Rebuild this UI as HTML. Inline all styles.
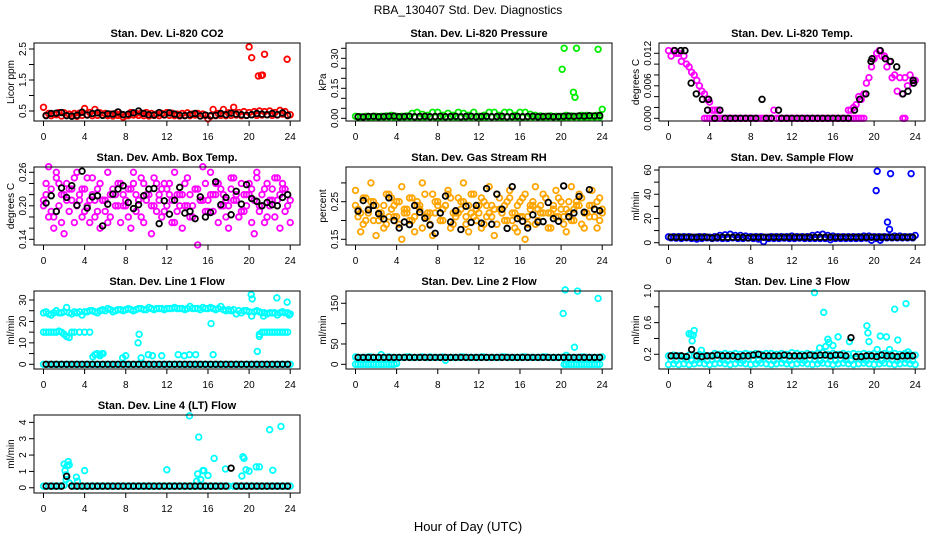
<!DOCTYPE html>
<html><head><meta charset="utf-8"><style>
body{margin:0;background:#fff;}
svg{display:block;font-family:"Liberation Sans",sans-serif;}
</style></head><body>
<svg id="chart" width="936" height="540" viewBox="0 0 936 540">
<rect width="936" height="540" fill="#fff"/>
<text x="468" y="14" text-anchor="middle" font-size="12">RBA_130407  Std. Dev. Diagnostics</text>
<text x="468" y="531" text-anchor="middle" font-size="13">Hour of Day (UTC)</text>
</svg>
<script>
const H=[0,0.5,1,1.5,2,2.5,3,3.5,4,4.5,5,5.5,6,6.5,7,7.5,8,8.5,9,9.5,10,10.5,11,11.5,12,12.5,13,13.5,14,14.5,15,15.5,16,16.5,17,17.5,18,18.5,19,19.5,20,20.5,21,21.5,22,22.5,23,23.5,24];
const H2=[0.25,0.75,1.25,1.75,2.25,2.75,3.25,3.75,4.25,4.75,5.25,5.75,6.25,6.75,7.25,7.75,8.25,8.75,9.25,9.75,10.25,10.75,11.25,11.75,12.25,12.75,13.25,13.75,14.25,14.75,15.25,15.75,16.25,16.75,17.25,17.75,18.25,18.75,19.25,19.75,20.25,20.75,21.25,21.75,22.25,22.75,23.25,23.75];
const xTicks=[0,4,8,12,16,20,24];

const co2RedA=[0.62,0.42,0.40,0.45,0.44,0.40,0.42,0.43,0.58,0.45,0.55,0.44,0.42,0.40,0.42,0.40,0.35,0.45,0.42,0.43,0.45,0.42,0.40,0.42,0.45,0.43,0.40,0.42,0.44,0.40,0.42,0.40,0.25,0.55,0.42,0.55,0.44,0.62,0.45,0.48,0.45,0.48,0.50,0.48,0.50,0.45,0.52,0.48,0.38];
const co2RedB=[0.36,0.35,0.38,0.34,0.36,0.35,0.33,0.36,0.38,0.35,0.36,0.37,0.35,0.34,0.36,0.30,0.35,0.37,0.36,0.35,0.34,0.36,0.35,0.37,0.36,0.35,0.34,0.36,0.35,0.37,0.34,0.36,0.33,0.35,0.36,0.35,0.36,0.37,0.35,0.36,0.38,0.36,0.37,0.38,0.36,0.37,0.40,0.35];
const co2Black=[0.35,0.42,0.43,0.45,0.35,0.33,0.36,0.46,0.37,0.42,0.44,0.36,0.41,0.40,0.47,0.38,0.40,0.44,0.50,0.42,0.38,0.37,0.45,0.38,0.44,0.40,0.36,0.35,0.38,0.42,0.34,0.37,0.35,0.36,0.42,0.38,0.43,0.40,0.38,0.36,0.38,0.42,0.40,0.38,0.42,0.38,0.44,0.36];
const co2OutX=[20.0,20.25,20.9,21.2,21.3,21.5,23.7];
const co2OutY=[2.57,2.22,1.63,1.65,1.66,2.33,2.17];

const presGreenA=[0.01,0.008,0.01,0.008,0.01,0.01,0.012,0.015,0.01,0.01,0.012,0.025,0.03,0.02,0.015,0.03,0.03,0.015,0.025,0.015,0.03,0.025,0.015,0.03,0.01,0.015,0.03,0.03,0.015,0.03,0.03,0.015,0.03,0.03,0.02,0.015,0.012,0.01,0.012,0.01,0.01,0.015,0.012,0.01,0.015,0.015,0.012,0.015,0.045];
const presGreenB=[0.005,0.004,0.006,0.005,0.004,0.005,0.006,0.005,0.004,0.005,0.006,0.005,0.004,0.005,0.006,0.005,0.004,0.005,0.006,0.005,0.004,0.005,0.006,0.005,0.004,0.005,0.006,0.005,0.004,0.005,0.006,0.005,0.004,0.005,0.006,0.005,0.004,0.005,0.006,0.005,0.004,0.005,0.006,0.005,0.004,0.005,0.006,0.005];
const presBlack=[0.008,0.007,0.009,0.01,0.008,0.009,0.01,0.011,0.008,0.009,0.01,0.008,0.009,0.01,0.008,0.009,0.01,0.008,0.009,0.01,0.008,0.009,0.01,0.008,0.009,0.01,0.008,0.009,0.01,0.008,0.009,0.01,0.008,0.009,0.01,0.008,0.009,0.01,0.008,0.009,0.01,0.011,0.01,0.012,0.011,0.013,0.012,0.014];
const presOutX=[20.1,20.3,21.2,21.35,21.5,23.6];
const presOutY=[0.245,0.35,0.13,0.105,0.35,0.345];

const tempA=[0.0125,0.0125,0.012,0.0115,0.0095,0.008,0.006,0.0045,0.003,0.0015,0.0015,0,0,0,0,0,0,0,0,0,0,0,0,0,0,0,0,0,0,0,0,0,0,0,0,0.0015,0.002,0.004,0.0045,0.0075,0.011,0.0125,0.0115,0.0105,0.008,0.0075,0.0075,0.008,0.007];
const tempB=[0.0115,0.012,0.0105,0.01,0.0085,0.007,0.005,0.0035,0.0015,0.0015,0,0,0,0,0,0,0,0,0,0,0.0015,0,0,0,0,0,0,0,0,0,0,0,0,0,0,0.0015,0.0025,0.0035,0.0065,0.0095,0.012,0.0115,0.0095,0.0075,0.005,0.0045,0.006,0.0065];
const tempZeroX=[3.5,3.75,4,4.25,4.5,4.75,5,17.5,17.75,18,18.25,18.5,18.75,19,22.8,23.0];
const tempZeroY=[0,0,0,0,0,0,0,0,0,0,0,0,0,0,0,0];
const tempBlackX=[0.6,1.2,1.6,2.2,2.7,3.3,3.8,3.9,5.0,9.1,10.7,18.1,18.6,19.2,19.7,19.8,20.6,21.1,21.6,22.2,22.8,23.3,23.8,23.85,4.5,5.5,6,6.5,7,7.5,8,8.5,9.5,10,11,11.5,12,12.5,13,13.5,14,14.5,15,15.5,16,16.5,17,17.5];
const tempBlackY=[0.0125,0.0125,0.0125,0.0065,0.0045,0.0035,0.0015,0.0035,0.0015,0.0035,0.0015,0.0015,0.0035,0.0045,0.0105,0.011,0.0125,0.011,0.0105,0.0095,0.0045,0.005,0.007,0.0065,0,0,0,0,0,0,0,0,0,0,0,0,0,0,0,0,0,0,0,0,0,0,0,0];

const ambA=[0.20,0.27,0.18,0.24,0.22,0.19,0.25,0.21,0.23,0.17,0.21,0.24,0.19,0.22,0.20,0.24,0.21,0.23,0.19,0.25,0.22,0.20,0.24,0.18,0.23,0.21,0.19,0.22,0.25,0.20,0.23,0.27,0.21,0.19,0.24,0.22,0.20,0.25,0.18,0.22,0.24,0.21,0.19,0.23,0.20,0.25,0.22,0.19,0.21];
const ambB=[0.22,0.19,0.25,0.17,0.21,0.23,0.20,0.18,0.25,0.22,0.19,0.21,0.17,0.23,0.20,0.22,0.18,0.24,0.21,0.17,0.23,0.20,0.22,0.19,0.24,0.17,0.22,0.20,0.18,0.23,0.21,0.19,0.22,0.24,0.20,0.18,0.23,0.21,0.19,0.22,0.17,0.25,0.20,0.18,0.23,0.21,0.24,0.20];
const ambC=[0.21,0.18,0.16,0.20,0.15,0.23,0.17,0.22,0.19,0.21,0.18,0.16,0.21,0.18,0.22,0.17,0.20,0.16,0.22,0.18,0.21,0.15,0.19,0.23,0.20,0.17,0.22,0.16,0.20,0.18,0.13,0.21,0.19,0.22,0.17,0.20,0.16,0.21,0.18,0.19,0.22,0.15,0.20,0.17,0.21,0.18,0.16,0.23,0.17];
const ambD=[0.24,0.23,0.26,0.22,0.24,0.21,0.26,0.23,0.20,0.25,0.23,0.21,0.26,0.22,0.24,0.20,0.23,0.26,0.21,0.24,0.22,0.25,0.21,0.24,0.22,0.26,0.20,0.24,0.22,0.23,0.21,0.24,0.26,0.22,0.23,0.21,0.25,0.22,0.24,0.20,0.23,0.26,0.22,0.24,0.21,0.25,0.23,0.22];
const ambBlack=[0.205,0.218,0.190,0.232,0.215,0.236,0.201,0.262,0.196,0.216,0.218,0.164,0.203,0.221,0.230,0.236,0.206,0.195,0.202,0.218,0.230,0.231,0.168,0.209,0.185,0.210,0.233,0.187,0.190,0.177,0.216,0.180,0.188,0.243,0.202,0.215,0.184,0.226,0.203,0.238,0.213,0.208,0.200,0.206,0.202,0.200,0.215,0.220];

const gasA=[0.28,0.22,0.26,0.30,0.24,0.21,0.27,0.23,0.25,0.29,0.22,0.26,0.24,0.30,0.21,0.27,0.25,0.23,0.28,0.22,0.26,0.30,0.24,0.27,0.22,0.25,0.29,0.23,0.26,0.24,0.28,0.22,0.25,0.27,0.23,0.29,0.24,0.26,0.22,0.28,0.25,0.23,0.29,0.24,0.26,0.22,0.28,0.25,0.23];
const gasB=[0.21,0.19,0.23,0.20,0.22,0.18,0.21,0.24,0.19,0.22,0.20,0.17,0.23,0.21,0.19,0.22,0.20,0.24,0.18,0.21,0.23,0.19,0.22,0.20,0.18,0.24,0.21,0.19,0.23,0.20,0.22,0.17,0.21,0.19,0.24,0.20,0.22,0.18,0.23,0.21,0.19,0.22,0.20,0.24,0.18,0.21,0.23,0.20];
const gasC=[0.24,0.17,0.20,0.25,0.16,0.22,0.19,0.26,0.21,0.15,0.23,0.20,0.25,0.18,0.22,0.16,0.24,0.20,0.27,0.19,0.22,0.25,0.17,0.21,0.24,0.19,0.22,0.16,0.23,0.20,0.26,0.18,0.21,0.15,0.24,0.19,0.22,0.26,0.18,0.21,0.23,0.17,0.20,0.25,0.19,0.22,0.24,0.18,0.22];
const gasD=[0.23,0.26,0.22,0.25,0.20,0.24,0.27,0.21,0.25,0.23,0.26,0.21,0.24,0.27,0.22,0.25,0.20,0.24,0.26,0.22,0.25,0.21,0.27,0.23,0.26,0.21,0.24,0.27,0.22,0.25,0.20,0.24,0.26,0.21,0.25,0.23,0.27,0.22,0.24,0.26,0.21,0.25,0.23,0.27,0.22,0.24,0.21,0.26];
const gasBlack=[0.225,0.253,0.228,0.240,0.218,0.204,0.260,0.200,0.180,0.196,0.189,0.240,0.222,0.206,0.188,0.166,0.220,0.265,0.196,0.226,0.176,0.238,0.195,0.240,0.193,0.285,0.190,0.270,0.230,0.179,0.290,0.205,0.198,0.180,0.215,0.196,0.197,0.248,0.205,0.198,0.292,0.210,0.220,0.264,0.222,0.282,0.230,0.226];

const sampA=[4.8,5,5,5,5,4.5,5,5,4.5,5,6,6.5,7,6,6,5.5,5,5,5,4.5,5,5,5,5,5.5,5,5,5,6,6.5,7,6,5.5,5,5,5,5,5,5.5,5.5,5,5,5,5,5.5,5.5,5,5,6];
const sampB=[4,3.8,3.5,4,3.5,3,3.5,4,3.5,3.8,3.5,3.5,4,3.5,3.5,3.8,3.5,3,1,3.5,3.5,3.5,3.8,3.5,3.5,3.8,3.5,3.5,3.5,3.5,3.5,2.5,3.5,3.5,3.5,3.5,3.5,3.5,3.8,2,3.5,4,4,4,4,4,4,4];
const sampBlack=[4.5,4.5,4.5,4.5,4.5,4.5,4.5,4.5,4,4.5,4.5,4.5,4.5,4.5,4.5,4,4.5,4.5,4.5,4.5,4.5,4.5,4.5,4.5,4.5,4.5,4.5,4.5,4.5,4.5,4.5,4.5,4.5,4.5,4.5,4.5,4.5,4.5,4.5,4.5,4.5,4.5,4.5,4.5,4.5,4.5,4.5,4.5];
const sampOutX=[20.2,20.3,20.6,21.3,21.5,21.6,23.6];
const sampOutY=[43,59,2,17,11,57,57];

const l1Up=[24,23.5,24,24,24.5,24,24.5,24.5,24.5,25,24.5,25,25,25.5,25,25.5,25.5,25.5,25.5,26,25.5,26,26,26,26,26,26,26,26,26,26,26.5,26,26,26,25.5,25.5,25.5,25,25,24.5,24.5,24.5,24,24,24,24,24,23.5];
const l1UpB=[24.5,23,25,24,26.5,23.5,24,23,24.5,25,24,25.5,26,24.5,25.5,25,26,25,26,25.5,26.5,25.5,26,25.5,26,26.5,26,25.5,27,26,25.5,26,26.5,25.5,27,25,25,23.5,24,25,22.5,25,24,23.5,24,23,24.5,24];
const l1MidX=[0,0.25,0.5,0.75,1,1.25,1.5,1.75,2,2.25,2.5,2.75,3,3.5,4,4.5,21,21.25,21.5,21.75,22,22.25,22.5,22.75,23,23.25,23.5,23.75];
const l1MidY=[15,15,15,15,15,15,15.5,15,14,13,12.5,15,15,15,15,15,14,15,15,15,15,15,15,15,15,15,15,15];
const l1Low=[0,0,0,0,0,0,0,0,0,0,0,0,0,0,0,0,0,0,0,0,0,0,0,0,0,0,0,0,0,0,0,0,0,0,0,0,0,0,0,0,0,0,0,0,0,0,0,0,0];
const l1ScatX=[4.8,5,5.2,5.5,5.7,7.7,8,9.2,9.3,9.5,10.2,10.6,11.5,13.1,13.7,14.2,14.8,20.2,20.3,20.8,21,21.4,22.7,23.7,23.9,16.3,16.5,5.5,5.8];
const l1ScatY=[3.5,4.5,5,4.5,5,3,4,10,14,3,4.5,4,4,4.5,4,4.5,4.5,32.5,30.5,6,13,22.5,31,29,23,19,4.5,4,5];
const l1Black=[0,0,0,0,0,0,0,0,0,0,0,0,0,0,0,0,0,0,0,0,0,0,0,0,0,0,0,0,0,0,0,0,0,0,0,0,0,0,0,0,0,0,0,0,0,0,0,0];

const l2Band=[18,17,17,18,17,24,17,17,17,17,18,17,17,18,17,17,17,18,17,17,17,18,17,17,17,18,17,17,17,18,17,17,17,18,17,17,17,18,17,17,17,22,17,17,18,17,17,17,18];
const l2BandB=[17,17,18,17,17,17,18,17,17,17,18,17,17,17,18,17,17,10,17,17,18,17,17,17,18,17,17,17,18,17,17,17,18,17,17,17,18,17,17,17,18,17,17,17,18,17,17,17];
const l2LowX=[0,0.25,0.5,0.75,1,1.25,1.5,1.75,2,2.25,2.5,2.75,3,3.25,3.5,3.75,4,20.3,20.5,20.75,21,21.25,21.5,21.75,22,22.25,22.5,22.75,23,23.25,23.5,23.75];
const l2LowY=[0,0,0,0,0,0,0,0,0,0,0,0,0,0,0,0,2,0,0,0,0,0,0,0,0,0,0,0,0,0,0,0];
const l2Black=[17,17,17,17,17,17,17,17,17,17,17,17,17,17,17,17,17,17,17,17,17,17,17,17,17,17,17,17,17,17,17,17,17,17,17,17,17,17,17,17,17,17,17,17,17,17,17,17];
const l2OutX=[20.2,20.4,21.3,21.6,23.6];
const l2OutY=[125,183,42,180,162];

const l3A=[0.18,0.19,0.18,0.17,0.19,0.18,0.2,0.19,0.18,0.21,0.2,0.21,0.2,0.21,0.2,0.21,0.2,0.21,0.2,0.21,0.21,0.2,0.21,0.2,0.22,0.21,0.2,0.21,0.2,0.21,0.22,0.2,0.21,0.2,0.21,0.2,0.21,0.2,0.21,0.2,0.21,0.2,0.21,0.2,0.21,0.2,0.21,0.2,0.19];
const l3B=[0.13,0.12,0.14,0.13,0.12,0.13,0.14,0.12,0.13,0.14,0.13,0.12,0.14,0.13,0.12,0.14,0.13,0.12,0.14,0.13,0.12,0.14,0.13,0.12,0.14,0.13,0.12,0.14,0.13,0.12,0.14,0.13,0.12,0.14,0.13,0.12,0.14,0.13,0.12,0.14,0.13,0.12,0.14,0.13,0.12,0.14,0.13,0.12];
const l3C=[0.07,0.08,0.07,0.08,0.07,0.08,0.09,0.08,0.07,0.08,0.09,0.08,0.07,0.08,0.09,0.08,0.07,0.08,0.09,0.08,0.07,0.08,0.09,0.08,0.07,0.08,0.09,0.08,0.07,0.08,0.09,0.08,0.07,0.08,0.09,0.08,0.07,0.08,0.09,0.08,0.07,0.08,0.09,0.08,0.07,0.08,0.09,0.08,0.07];
const l3Black=[0.18,0.18,0.18,0.17,0.26,0.18,0.17,0.18,0.18,0.19,0.18,0.18,0.18,0.17,0.18,0.18,0.19,0.2,0.18,0.18,0.18,0.18,0.19,0.18,0.18,0.18,0.18,0.19,0.18,0.19,0.19,0.18,0.19,0.19,0.18,0.41,0.17,0.17,0.18,0.18,0.17,0.19,0.18,0.18,0.17,0.18,0.18,0.18];
const l3OutX=[2.0,2.2,2.3,2.4,2.5,3.2,14.2,15.1,15.3,15.5,15.6,16.0,16.5,17.6,19.3,19.4,19.5,20.3,20.6,21.2,21.5,22.0,22.3,23.1,23.3,14.7];
const l3OutY=[0.46,0.45,0.37,0.44,0.50,0.25,0.98,0.73,0.30,0.39,0.35,0.31,0.42,0.36,0.56,0.47,0.36,0.26,0.43,0.42,0.26,0.77,0.38,0.84,0.23,0.28];

const l4Band=[0.1,0.1,0.1,0.1,0.15,0.3,0.1,0.1,0.1,0.1,0.1,0.1,0.1,0.1,0.1,0.1,0.1,0.1,0.1,0.1,0.1,0.1,0.1,0.1,0.1,0.1,0.1,0.1,0.1,0.1,0.1,0.1,0.1,0.1,0.1,0.1,0.1,0.1,0.1,0.1,0.1,0.1,0.1,0.1,0.1,0.1,0.1,0.1,0.1];
const l4Black=[0.1,0.1,0.1,0.1,0.7,0.1,0.1,0.1,0.1,0.1,0.1,0.1,0.1,0.1,0.1,0.1,0.1,0.1,0.1,0.1,0.1,0.1,0.1,0.1,0.1,0.1,0.1,0.1,0.1,0.1,0.1,0.1,0.1,0.1,0.1,0.1,1.2,0.1,0.1,0.1,0.1,0.1,0.1,0.1,0.1,0.1,0.1,0.1];
const l4OutX=[2.0,2.1,2.2,2.3,2.4,2.5,3.2,3.3,4.0,12.0,14.2,15.0,15.1,15.3,15.5,15.6,16.0,16.6,17.7,19.3,19.4,19.5,19.7,20.0,20.7,21.0,22.0,22.3,23.1,2.2,14.9];
const l4OutY=[1.45,1.05,0.5,1.35,1.6,1.4,0.65,0.4,1.05,1.1,4.4,0.85,3.1,0.5,1.05,1.05,0.75,1.8,1.15,0.72,1.9,1.8,1.1,1.02,1.28,1.28,3.55,1.07,3.75,0.8,0.4];

const svg=document.getElementById('chart');
const NS='http://www.w3.org/2000/svg';
function mk(tag,attrs,parent){const e=document.createElementNS(NS,tag);for(const k in attrs)e.setAttribute(k,attrs[k]);(parent||svg).appendChild(e);return e;}

const colLeft=[34,346,659], rowTop=[43,167,291,415], W=266, HT=78;

function panel(p){
  const L=colLeft[p.col], T=rowTop[p.row], B=T+HT, R=L+W;
  const g=mk('g',{});
  
  
  const xs=h=>L+9.5+h*10.28;
  const ys=v=>B-(v-p.lo)/(p.hi-p.lo)*HT;
  const ttl=mk('text',{x:L+W/2,y:T-6,'text-anchor':'middle','font-size':11,'font-weight':'bold'},g);
  ttl.textContent=p.title;
  
  
  const yt=mk('text',{x:0,y:0,'text-anchor':'middle','font-size':10,transform:`translate(${L-20},${(T+B)/2}) rotate(-90)`},g);
  yt.textContent=p.ylab;
  
  
  xTicks.forEach(t=>{
    mk('line',{x1:xs(t),x2:xs(t),y1:B,y2:B+5,stroke:'#000','stroke-width':1},g);
    const tl=mk('text',{x:xs(t),y:B+19,'text-anchor':'middle','font-size':10},g);
    tl.textContent=t;
    
    
  });
  p.ticks.forEach(t=>{
    mk('line',{x1:L-5,x2:L,y1:ys(t),y2:ys(t),stroke:'#000','stroke-width':1},g);
  });
  p.labels.forEach((t,i)=>{
    const tl=mk('text',{x:0,y:0,'text-anchor':'middle','font-size':10,transform:`translate(${L-8},${ys(t)}) rotate(-90)`},g);
    tl.textContent=p.labelText[i];
    
    
  });
  p.series.forEach(s=>{
    const sg=mk('g',{fill:'none',stroke:s.c,'stroke-width':1.8},g);
    
    
    s.x.forEach((h,i)=>{
      const c=mk('circle',{cx:xs(h),cy:ys(s.y[i]),r:2.8},sg);
      
      
    });
  });
  const box=mk('rect',{x:L,y:T,width:W,height:HT,fill:'none',stroke:'#000','stroke-width':1},g);
  
  
}
const RED='#ff0000',GRN='#00ee00',MAG='#ff00ff',ORG='#ffa500',BLU='#0000ff',CYN='#00ffff',BLK='#000';
panel({name:'panel-co2',col:0,row:0,title:'Stan. Dev. Li-820 CO2',ylab:'Licor ppm',lo:0.177,hi:2.694,ticks:[0.5,1,1.5,2,2.5],labels:[0.5,1.5,2.5],labelText:['0.5','1.5','2.5'],
 series:[{n:'co2-red-a',x:H,y:co2RedA,c:RED},{n:'co2-red-b',x:H2,y:co2RedB,c:RED},{n:'co2-red-outliers',x:co2OutX,y:co2OutY,c:RED},{n:'co2-black',x:H2,y:co2Black,c:BLK}]});
panel({name:'panel-pressure',col:1,row:0,title:'Stan. Dev. Li-820 Pressure',ylab:'kPa',lo:-0.0135,hi:0.3765,ticks:[0,0.05,0.1,0.15,0.2,0.25,0.3,0.35],labels:[0,0.15,0.3],labelText:['0.00','0.15','0.30'],
 series:[{n:'pres-green-a',x:H,y:presGreenA,c:GRN},{n:'pres-green-b',x:H2,y:presGreenB,c:GRN},{n:'pres-black',x:H2,y:presBlack,c:BLK},{n:'pres-outliers',x:presOutX,y:presOutY,c:GRN}]});
panel({name:'panel-temp',col:2,row:0,title:'Stan. Dev. Li-820 Temp.',ylab:'degrees C',lo:-0.0005,hi:0.0139,ticks:[0,0.002,0.004,0.006,0.008,0.01,0.012],labels:[0,0.006,0.012],labelText:['0.000','0.006','0.012'],
 series:[{n:'temp-a',x:H,y:tempA,c:MAG},{n:'temp-b',x:H2,y:tempB,c:MAG},{n:'temp-zero',x:tempZeroX,y:tempZeroY,c:MAG},{n:'temp-black',x:tempBlackX,y:tempBlackY,c:BLK}]});
panel({name:'panel-amb-box',col:0,row:1,title:'Stan. Dev. Amb. Box Temp.',ylab:'degrees C',lo:0.1298,hi:0.2695,ticks:[0.14,0.16,0.18,0.2,0.22,0.24,0.26],labels:[0.14,0.2,0.26],labelText:['0.14','0.20','0.26'],
 series:[{n:'amb-a',x:H,y:ambA,c:MAG},{n:'amb-b',x:H2,y:ambB,c:MAG},{n:'amb-c',x:H,y:ambC,c:MAG},{n:'amb-d',x:H2,y:ambD,c:MAG},{n:'amb-black',x:H2,y:ambBlack,c:BLK}]});
panel({name:'panel-gas-rh',col:1,row:1,title:'Stan. Dev. Gas Stream RH',ylab:'percent',lo:0.1348,hi:0.3423,ticks:[0.15,0.2,0.25,0.3],labels:[0.15,0.25],labelText:['0.15','0.25'],
 series:[{n:'gas-a',x:H,y:gasA,c:ORG},{n:'gas-b',x:H2,y:gasB,c:ORG},{n:'gas-c',x:H,y:gasC,c:ORG},{n:'gas-d',x:H2,y:gasD,c:ORG},{n:'gas-black',x:H2,y:gasBlack,c:BLK}]});
panel({name:'panel-sample-flow',col:2,row:1,title:'Stan. Dev. Sample Flow',ylab:'ml/min',lo:-1.9,hi:62.5,ticks:[0,10,20,30,40,50,60],labels:[0,20,40,60],labelText:['0','20','40','60'],
 series:[{n:'samp-a',x:H,y:sampA,c:BLU},{n:'samp-b',x:H2,y:sampB,c:BLU},{n:'samp-outliers',x:sampOutX,y:sampOutY,c:BLU},{n:'samp-black',x:H2,y:sampBlack,c:BLK}]});
panel({name:'panel-line1',col:0,row:2,title:'Stan. Dev. Line 1 Flow',ylab:'ml/min',lo:-2.2,hi:34.2,ticks:[0,5,10,15,20,25,30],labels:[0,10,20,30],labelText:['0','10','20','30'],
 series:[{n:'l1-upper',x:H,y:l1Up,c:CYN},{n:'l1-upper-b',x:H2,y:l1UpB,c:CYN},{n:'l1-mid',x:l1MidX,y:l1MidY,c:CYN},{n:'l1-low',x:H,y:l1Low,c:CYN},{n:'l1-scatter',x:l1ScatX,y:l1ScatY,c:CYN},{n:'l1-black',x:H2,y:l1Black,c:BLK}]});
panel({name:'panel-line2',col:1,row:2,title:'Stan. Dev. Line 2 Flow',ylab:'ml/min',lo:-11.5,hi:180.2,ticks:[0,50,100,150],labels:[0,50,150],labelText:['0','50','150'],
 series:[{n:'l2-band',x:H,y:l2Band,c:CYN},{n:'l2-band-b',x:H2,y:l2BandB,c:CYN},{n:'l2-low',x:l2LowX,y:l2LowY,c:CYN},{n:'l2-outliers',x:l2OutX,y:l2OutY,c:CYN},{n:'l2-black',x:H2,y:l2Black,c:BLK}]});
panel({name:'panel-line3',col:2,row:2,title:'Stan. Dev. Line 3 Flow',ylab:'ml/min',lo:0.014,hi:1.0,ticks:[0.2,0.4,0.6,0.8,1.0],labels:[0.2,0.6,1.0],labelText:['0.2','0.6','1.0'],
 series:[{n:'l3-a',x:H,y:l3A,c:CYN},{n:'l3-b',x:H2,y:l3B,c:CYN},{n:'l3-c',x:H,y:l3C,c:CYN},{n:'l3-outliers',x:l3OutX,y:l3OutY,c:CYN},{n:'l3-black',x:H2,y:l3Black,c:BLK}]});
panel({name:'panel-line4',col:0,row:3,title:'Stan. Dev. Line 4 (LT) Flow',ylab:'ml/min',lo:-0.32,hi:4.45,ticks:[0,1,2,3,4],labels:[0,1,2,3,4],labelText:['0','1','2','3','4'],
 series:[{n:'l4-band',x:H,y:l4Band,c:CYN},{n:'l4-outliers',x:l4OutX,y:l4OutY,c:CYN},{n:'l4-black',x:H2,y:l4Black,c:BLK}]});
</script>
</body></html>
